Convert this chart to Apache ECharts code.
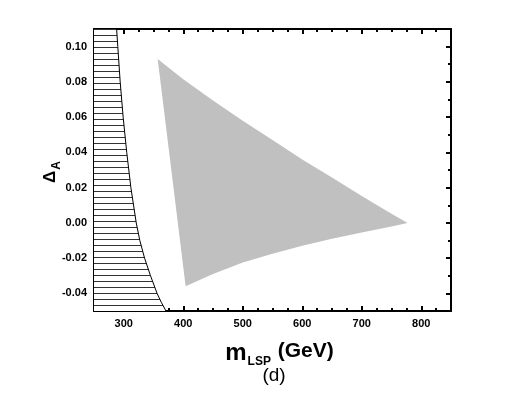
<!DOCTYPE html>
<html>
<head>
<meta charset="utf-8">
<script src="https://cdn.jsdelivr.net/npm/echarts@6.0.0/dist/echarts.min.js"></script>
<style>
  html, body { margin: 0; padding: 0; background: #fff; }
  #chart { width: 526px; height: 393px; }
</style>
</head>
<body>
<div id="chart"></div>
<script>
// axis ticks
var xMajorTicks = [300, 400, 500, 600, 700, 800];
var xMinorTicks = [275, 325, 350, 375, 425, 450, 475, 525, 550, 575, 625, 650, 675, 725, 750, 775, 825];
var yMajorTicks = [-0.04, -0.02, 0.0, 0.02, 0.04, 0.06, 0.08, 0.10];
var yMinorTicks = [-0.03, -0.01, 0.01, 0.03, 0.05, 0.07, 0.09];

// excluded (hatched) region boundary, m_LSP vs Delta_A
var boundaryX = [288, 290, 294, 299, 305, 312, 321, 327, 335, 345, 356, 363, 371];
var boundaryY = [0.11, 0.10, 0.08, 0.06, 0.04, 0.02, 0.00, -0.01, -0.02, -0.03, -0.04, -0.045, -0.05];

// allowed (gray) region outline: top edge then bottom edge back
var regionX = [357, 400, 450, 500, 550, 600, 650, 700, 750, 777, 750, 700, 650, 600, 550, 500, 450, 404];
var regionY = [0.093, 0.0815, 0.0695, 0.058, 0.047, 0.036, 0.0258, 0.0152, 0.0052, 0.0,
               -0.002, -0.0055, -0.009, -0.013, -0.0175, -0.0225, -0.029, -0.036];

var font = "'Liberation Sans', Arial, sans-serif";

function zip(a, b) {
  return a.map(function (v, i) { return [v, b[i]]; });
}

// horizontal hatch pattern
var hatch = document.createElement("canvas");
hatch.width = 8;
hatch.height = 6;
var hctx = hatch.getContext("2d");
hctx.fillStyle = "#fff";
hctx.fillRect(0, 0, 8, 6);
hctx.fillStyle = "#333";
hctx.fillRect(0, 5, 8, 1);

var chartDom = document.getElementById("chart");
var myChart = echarts.init(chartDom);

function xAxisDef(pos, ticks, len, main) {
  return {
    type: "value",
    position: pos,
    min: 250,
    max: 850,
    axisLine: { show: main, onZero: false, lineStyle: { color: "#000", width: 2 } },
    axisTick: { show: true, inside: true, length: len, customValues: ticks, lineStyle: { color: "#000", width: 2 } },
    axisLabel: { show: false },
    splitLine: { show: false }
  };
}
function yAxisDef(pos, ticks, len, main) {
  return {
    type: "value",
    position: pos,
    min: -0.05,
    max: 0.11,
    axisLine: { show: main, onZero: false, lineStyle: { color: "#000", width: 2 } },
    axisTick: { show: true, inside: true, length: len, customValues: ticks, lineStyle: { color: "#000", width: 2 } },
    axisLabel: { show: false },
    splitLine: { show: false }
  };
}

var xBottom = xAxisDef("bottom", xMajorTicks, 5, true);
xBottom.axisLabel = {
  show: true,
  customValues: xMajorTicks,
  margin: 7,
  color: "#000",
  fontFamily: font,
  fontWeight: "bold",
  fontSize: 11
};
xBottom.name = "{m|m}{s|LSP}{g| (GeV)}";
xBottom.nameLocation = "middle";
xBottom.nameGap = 30;
xBottom.nameTextStyle = {
  color: "#000",
  fontFamily: font,
  fontWeight: "bold",
  padding: [0, 0, 0, 14],
  rich: {
    m: { fontSize: 24, fontWeight: "bold", fontFamily: font, lineHeight: 22, verticalAlign: "top" },
    g: { fontSize: 21, fontWeight: "bold", fontFamily: font, lineHeight: 22, verticalAlign: "top" },
    s: { fontSize: 12, fontWeight: "bold", fontFamily: font, lineHeight: 12, padding: [19, 1, 0, 1] }
  }
};

var yLeft = yAxisDef("left", yMajorTicks, 5, true);
yLeft.axisLabel = {
  show: true,
  customValues: yMajorTicks,
  margin: 7,
  color: "#000",
  fontFamily: font,
  fontWeight: "bold",
  fontSize: 11,
  formatter: function (v) { return v.toFixed(2); }
};
yLeft.name = "{d|\u0394}{s|A}";
yLeft.nameLocation = "middle";
yLeft.nameRotate = 90;
yLeft.nameGap = 35;
yLeft.nameMoveOverlap = false;
yLeft.nameTextStyle = {
  color: "#000",
  padding: [0, 4, 0, 0],
  rich: {
    d: { fontSize: 17, fontWeight: "bold", fontFamily: font, lineHeight: 17, verticalAlign: "top" },
    s: { fontSize: 12, fontWeight: "bold", fontFamily: font, lineHeight: 12, padding: [13, 0, 0, 1] }
  }
};

var option = {
  animation: false,
  backgroundColor: "#fff",
  grid: { left: 94, top: 29, width: 357, height: 282, containLabel: false },
  xAxis: [
    xBottom,
    xAxisDef("bottom", xMinorTicks, 3, false),
    xAxisDef("top", xMajorTicks, 5, true),
    xAxisDef("top", xMinorTicks, 3, false)
  ],
  yAxis: [
    yLeft,
    yAxisDef("left", yMinorTicks, 3, false),
    yAxisDef("right", yMajorTicks, 5, true),
    yAxisDef("right", yMinorTicks, 3, false)
  ],
  graphic: [
    {
      type: "text",
      x: 274,
      y: 366,
      style: { text: "(d)", font: "19px " + font, fill: "#000", textAlign: "center" }
    }
  ],
  series: [
    {
      type: "custom",
      name: "excluded",
      clip: true,
      silent: true,
      data: zip(boundaryX, boundaryY),
      renderItem: function (params, api) {
        if (params.dataIndex !== 0) return;
        var pts = boundaryX.map(function (x, i) { return api.coord([x, boundaryY[i]]); });
        pts.push(api.coord([250, boundaryY[boundaryY.length - 1]]));
        pts.push(api.coord([250, boundaryY[0]]));
        return {
          type: "polygon",
          shape: { points: pts },
          style: { fill: { image: hatch, repeat: "repeat" }, stroke: null }
        };
      },
      z: 1
    },
    {
      type: "line",
      name: "boundary",
      data: zip(boundaryX, boundaryY),
      showSymbol: false,
      silent: true,
      lineStyle: { color: "#000", width: 1 },
      z: 2
    },
    {
      type: "custom",
      name: "allowed",
      clip: true,
      silent: true,
      data: zip(regionX, regionY),
      renderItem: function (params, api) {
        if (params.dataIndex !== 0) return;
        var pts = regionX.map(function (x, i) { return api.coord([x, regionY[i]]); });
        return {
          type: "polygon",
          shape: { points: pts },
          style: { fill: "#c0c0c0", stroke: null }
        };
      },
      z: 3
    }
  ]
};

if (option && typeof option === "object") {
  myChart.setOption(option);
}
</script>
</body>
</html>
